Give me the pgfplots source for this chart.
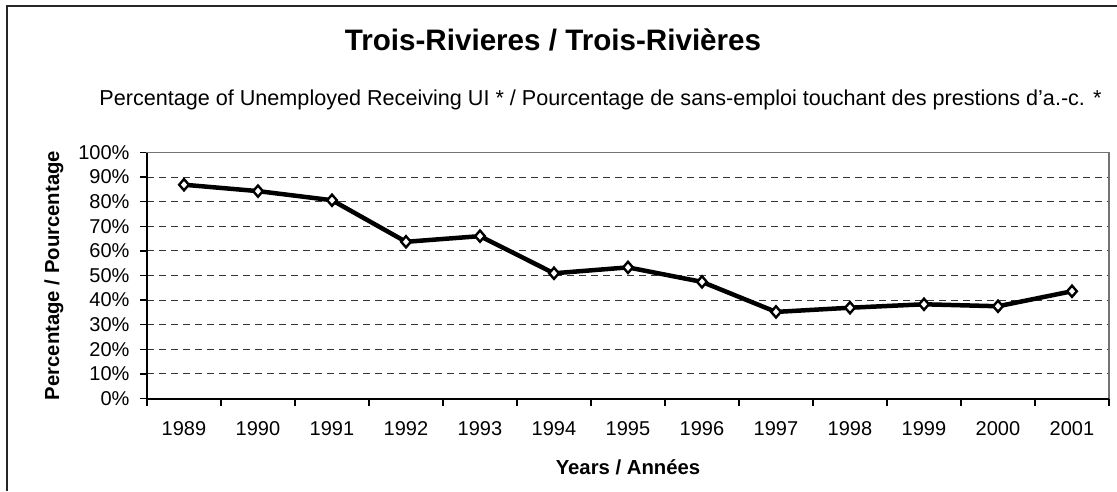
\documentclass[border=0pt]{standalone}
\usepackage{fontspec}
\setmainfont{Liberation Sans}
\usepackage{pgfplots}
\pgfplotsset{compat=1.18}
\begin{document}
\begin{tikzpicture}[x=1pt,y=1pt]
\useasboundingbox (0,0) rectangle (1117,491);
\draw[black!85, line width=1.5pt] (7,0) -- (7,485) -- (1117,485);
\node[anchor=base, inner sep=0pt, font=\fontsize{29.6}{32}\selectfont\bfseries] at (553,440.3) {Trois-Rivieres / Trois-Rivières};
\node[anchor=base, inner sep=0pt, font=\fontsize{21.6}{24}\selectfont] at (600.5,385) {Percentage of Unemployed Receiving UI * / Pourcentage de sans-emploi touchant des prestions d\symbol{39}a.-c. *};
\begin{axis}[
  at={(147pt,92.5pt)}, anchor=south west,
  width=962pt, height=246pt, scale only axis,
  xmin=1988.5, xmax=2001.5, ymin=0, ymax=100,
  xtick={1988.5,1989.5,...,2001.5},
  x tick label as interval,
  xticklabels={1989,1990,1991,1992,1993,1994,1995,1996,1997,1998,1999,2000,2001},
  ytick={0,10,...,100},
  yticklabel={\pgfmathprintnumber{\tick}\%},
  /pgf/number format/assume math mode=true,
  tick align=outside, major tick length=7pt,
  tick style={black, line width=1.3pt},
  xtick pos=bottom, ytick pos=left,
  tick label style={font=\fontsize{20}{22}\selectfont},
  xticklabel style={yshift=-12pt},
  yticklabel style={xshift=-7pt},
  ymajorgrids,
  grid style={black!80, line width=1pt, dash pattern=on 7pt off 5pt},
  axis line style={black!55, line width=1.3pt},
  xlabel={\bfseries Years / Années},
  ylabel={\bfseries Percentage / Pourcentage},
  xlabel style={yshift=-18pt},
  ylabel style={yshift=8pt},
  label style={font=\fontsize{20.3}{22}\selectfont},
  clip=false,
]
\addplot[black, line width=4.5pt, mark=diamond*, mark size=5.6pt,
  mark options={fill=white, line width=2.4pt, xscale=1.15}] coordinates {
  (1989,86.9) (1990,84.3) (1991,80.6) (1992,63.7) (1993,66.0)
  (1994,50.9) (1995,53.3) (1996,47.4) (1997,35.2) (1998,36.9)
  (1999,38.3) (2000,37.5) (2001,43.6)
};
\draw[black, line width=2pt] (rel axis cs:0,1) -- (rel axis cs:0,0) -- (rel axis cs:1,0);
\end{axis}
\end{tikzpicture}
\end{document}
